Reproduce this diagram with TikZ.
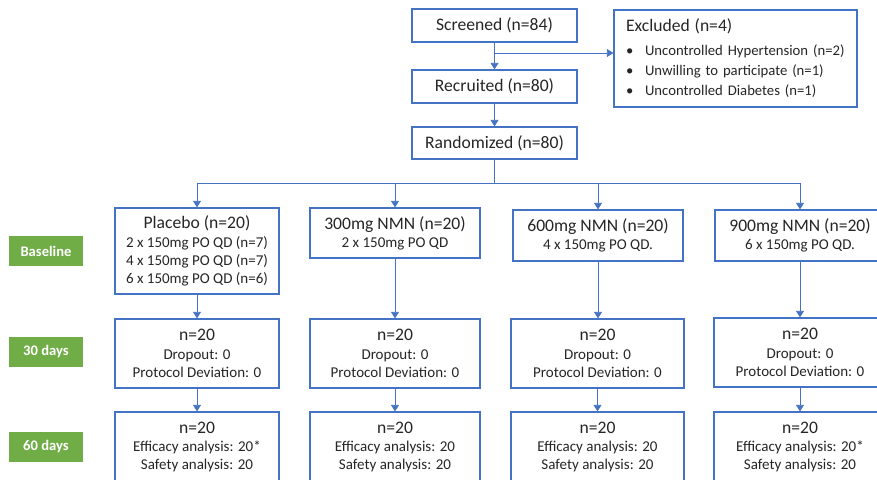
\documentclass[tikz,border=0pt]{standalone}
\usepackage{fontspec}
\setmainfont{Carlito}
\usetikzlibrary{arrows.meta}
\definecolor{boxblue}{HTML}{4472C4}
\definecolor{linkblue}{HTML}{4472C4}
\definecolor{labgreen}{HTML}{70AD47}
\definecolor{txt}{HTML}{262626}
\tikzset{
  x=1pt,y=-1pt,
  flowbox/.style={draw=boxblue,line width=1.3pt,fill=white,text=txt,align=center,inner sep=0pt,
    font=\fontsize{15}{18}\selectfont},
  stagelab/.style={fill=labgreen,text=white,minimum width=74pt,minimum height=30pt,inner sep=0pt,
    font=\fontsize{14.6}{17}\selectfont\bfseries},
  link/.style={draw=linkblue,line width=0.8pt},
  arrowlink/.style={link,-{Triangle[width=8pt,length=6.5pt]}},
}
\newcommand{\titletext}[1]{{\fontsize{17.6}{21}\selectfont #1}}
\newcommand{\bul}{\makebox[19pt][l]{\textbullet}}
\begin{document}
\begin{tikzpicture}
\useasboundingbox (0,0) rectangle (877,479);
\clip (0,0) rectangle (877,479);
% top
\node[flowbox,minimum width=165pt,minimum height=33pt] (scr) at (494.5,25.5) {\titletext{Screened (n=84)}};
\node[flowbox,minimum width=165pt,minimum height=33pt] (rec) at (494.5,86.5) {\titletext{Recruited (n=80)}};
\node[flowbox,minimum width=165pt,minimum height=32pt] (ran) at (494.5,143) {\titletext{Randomized (n=80)}};
\node[flowbox,align=left,text width=225pt,inner xsep=9pt,minimum height=97pt,
  font=\fontsize{14.7}{20}\selectfont] (exc) at (735.5,58.5)
  {\hspace*{3pt}\titletext{Excluded (n=4)}\\[4pt]
   \hspace*{3pt}\bul Uncontrolled Hypertension (n=2)\\
   \hspace*{3pt}\bul Unwilling to participate (n=1)\\
   \hspace*{3pt}\bul Uncontrolled Diabetes (n=1)};
% row 1
\node[flowbox,minimum width=164pt,minimum height=86pt] (b1) at (197,251)
  {\titletext{Placebo (n=20)}\\[0.5pt] 2 x 150mg PO QD (n=7)\\ 4 x 150mg PO QD (n=7)\\ 6 x 150mg PO QD (n=6)};
\node[flowbox,minimum width=170pt,minimum height=50pt] (b2) at (395,233)
  {\titletext{300mg NMN (n=20)}\\ 2 x 150mg PO QD};
\node[flowbox,minimum width=170pt,minimum height=51pt] (b3) at (598,235.5)
  {\titletext{600mg NMN (n=20)}\\ 4 x 150mg PO QD.};
\node[flowbox,minimum width=170pt,minimum height=51pt] (b4) at (800,235.5)
  {\titletext{900mg NMN (n=20)}\\ 6 x 150mg PO QD.};
% row 2
\node[flowbox,minimum width=164pt,minimum height=69pt] (m1) at (197,353.5)
  {\titletext{n=20}\\[1pt] Dropout: 0\\ Protocol Deviation: 0};
\node[flowbox,minimum width=170pt,minimum height=69pt] (m2) at (395,353.5)
  {\titletext{n=20}\\[1pt] Dropout: 0\\ Protocol Deviation: 0};
\node[flowbox,minimum width=173pt,minimum height=69pt] (m3) at (597.5,353.5)
  {\titletext{n=20}\\[1pt] Dropout: 0\\ Protocol Deviation: 0};
\node[flowbox,minimum width=172pt,minimum height=69pt] (m4) at (800,352.5)
  {\titletext{n=20}\\[1pt] Dropout: 0\\ Protocol Deviation: 0};
% row 3
\node[flowbox,minimum width=164pt,minimum height=70pt] (e1) at (197,447)
  {\titletext{n=20}\\ Efficacy analysis: 20*\\ Safety analysis: 20};
\node[flowbox,minimum width=170pt,minimum height=70pt] (e2) at (395,447)
  {\titletext{n=20}\\ Efficacy analysis: 20\\ Safety analysis: 20};
\node[flowbox,minimum width=173pt,minimum height=70pt] (e3) at (597.5,447)
  {\titletext{n=20}\\ Efficacy analysis: 20\\ Safety analysis: 20};
\node[flowbox,minimum width=172pt,minimum height=70pt] (e4) at (800,447)
  {\titletext{n=20}\\ Efficacy analysis: 20*\\ Safety analysis: 20};
% stage labels
\node[stagelab] (lb) at (46,251) {Baseline};
\node[stagelab] (l30) at (46,351.5) {30 days};
\node[stagelab] (l60) at (46,446.5) {60 days};
% connectors
\coordinate (br) at (scr.south |- 0,53);
\coordinate (split) at (ran.south |- 0,183);
\draw[arrowlink] (scr.south) -- (rec.north);
\draw[arrowlink] (br) -- (br -| exc.west);
\draw[arrowlink] (rec.south) -- (ran.north);
\draw[link] (ran.south) -- (split);
\draw[link] (b1.north |- split) -- (b4.north |- split);
\foreach \n in {b1,b2,b3,b4}{
  \draw[arrowlink] (\n.north |- split) -- (\n.north);
}
\foreach \a/\b in {b1/m1,b2/m2,b3/m3,b4/m4,m1/e1,m2/e2,m3/e3,m4/e4}{
  \draw[arrowlink] (\a.south) -- (\a.south |- \b.north);
}
\end{tikzpicture}
\end{document}
